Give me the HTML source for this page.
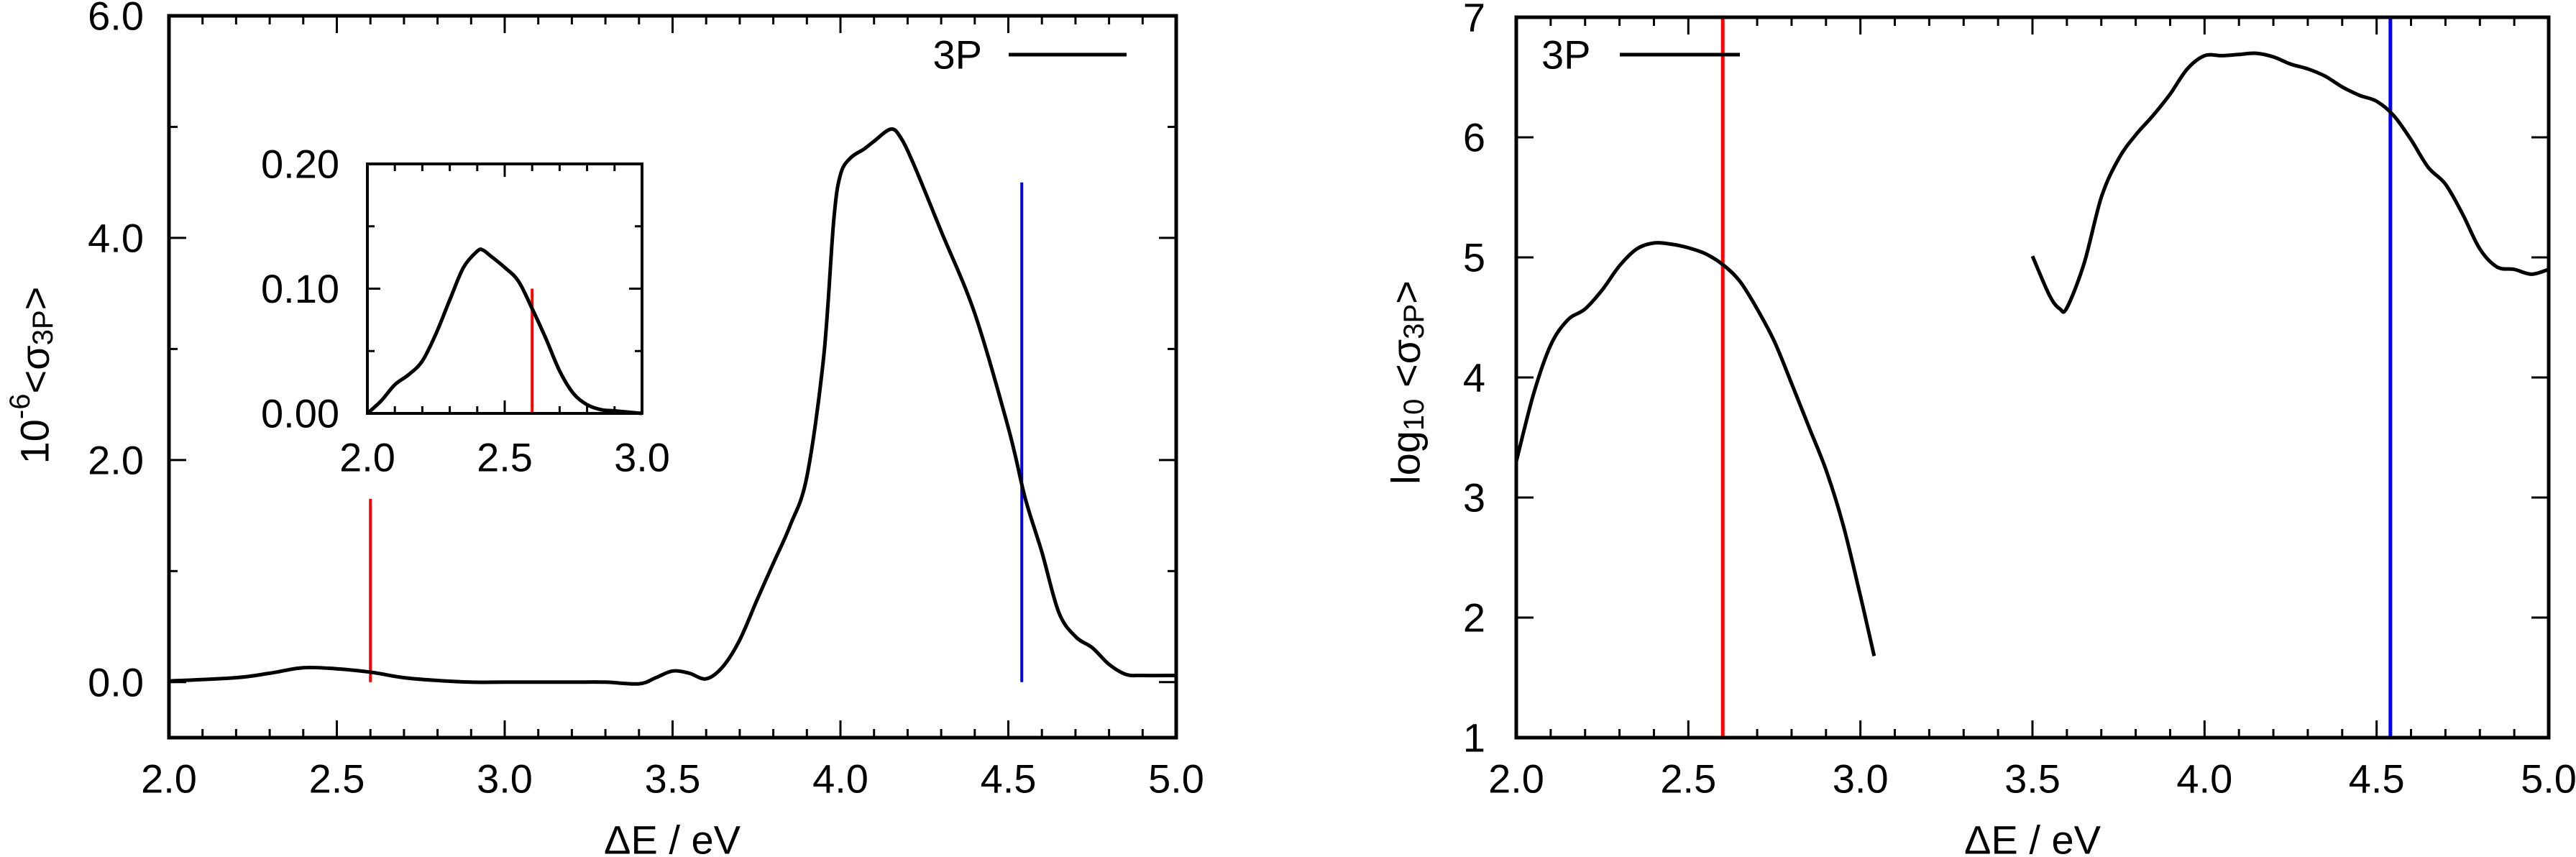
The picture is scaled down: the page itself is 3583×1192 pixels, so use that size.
<!DOCTYPE html>
<html><head><meta charset="utf-8">
<style>
html,body{margin:0;padding:0;background:#fff;}
svg{display:block;}
text{font-family:"Liberation Sans",sans-serif;fill:#000;}
</style></head>
<body>
<svg id="chart" width="3583" height="1192" viewBox="0 0 3583 1192" xmlns="http://www.w3.org/2000/svg"></svg>
<script>
// Left main panel data
const mainX = [2.0,2.2,2.3,2.4,2.5,2.6,2.7,2.8,2.9,3.0,3.1,3.2,3.3,3.4,3.45,3.5,3.55,3.6,3.65,3.7,3.75,3.8,3.85,3.9,3.95,3.98,4.0,4.03,4.07,4.1,4.15,4.18,4.22,4.3,4.4,4.5,4.55,4.6,4.65,4.7,4.75,4.8,4.85,4.9,5.0];
const mainY = [0.01,0.04,0.08,0.13,0.12,0.09,0.04,0.015,0.0,0.0,0.0,0.0,0.0,-0.015,0.04,0.1,0.08,0.03,0.14,0.38,0.73,1.07,1.41,1.85,2.93,4.16,4.57,4.72,4.8,4.87,4.98,4.9,4.65,4.06,3.32,2.29,1.66,1.17,0.63,0.41,0.31,0.16,0.07,0.06,0.06];
// Inset data
const insetX = [2.0,2.05,2.1,2.15,2.2,2.25,2.3,2.35,2.4,2.42,2.45,2.5,2.55,2.6,2.65,2.7,2.75,2.8,2.85,2.9,3.0];
const insetY = [0.0,0.01,0.023,0.031,0.042,0.064,0.091,0.117,0.130,0.131,0.126,0.117,0.106,0.084,0.06,0.034,0.016,0.007,0.003,0.002,0.0];
// Right log panel data (two segments)
const logX1 = [2.0,2.05,2.1,2.15,2.2,2.25,2.3,2.35,2.4,2.45,2.5,2.55,2.6,2.65,2.7,2.75,2.8,2.85,2.9,2.95,3.0,3.04];
const logY1 = [3.30,3.86,4.27,4.48,4.57,4.73,4.93,5.07,5.12,5.11,5.08,5.03,4.94,4.80,4.57,4.30,3.95,3.59,3.23,2.77,2.18,1.68];
const logX2 = [3.5,3.55,3.58,3.6,3.65,3.7,3.75,3.8,3.85,3.9,3.95,4.0,4.05,4.1,4.15,4.2,4.25,4.3,4.35,4.4,4.45,4.5,4.55,4.6,4.65,4.7,4.75,4.8,4.85,4.9,4.95,5.0];
const logY2 = [5.01,4.68,4.57,4.58,4.95,5.5,5.82,6.02,6.18,6.36,6.57,6.68,6.68,6.69,6.70,6.67,6.61,6.57,6.51,6.42,6.35,6.30,6.18,5.98,5.75,5.61,5.36,5.07,4.92,4.90,4.86,4.90];
// Marker lines
const redLineX = [2.6];
const blueLineX = [4.54];
const mainRedTop = [1.65];
const mainBlueTop = [4.5];
const insetRedTop = [0.1];
// Tick labels
const mainXTicks = ["2.0","2.5","3.0","3.5","4.0","4.5","5.0"];
const mainYTicks = ["0.0","2.0","4.0","6.0"];
const insetXTicks = ["2.0","2.5","3.0"];
const insetYTicks = ["0.00","0.10","0.20"];
const logYTicks = ["1","2","3","4","5","6","7"];

const NS="http://www.w3.org/2000/svg";
const svg=document.getElementById('chart');
function mk(tag,attrs,parent){const e=document.createElementNS(NS,tag);for(const k in attrs)e.setAttribute(k,attrs[k]);(parent||svg).appendChild(e);return e;}
function scale(d0,d1,r0,r1){return v=>r0+(v-d0)/(d1-d0)*(r1-r0);}

function axes(name){
  const g=mk('g',{});
  
  
  return g;
}
function frame(g,p,sw){
  const r=mk('rect',{x:p.x0,y:p.y0,width:p.x1-p.x0,height:p.y1-p.y0,fill:'none',stroke:'#000','stroke-width':sw},g);
  
  
}
function tick(g,x1,y1,x2,y2){mk('line',{x1,y1,x2,y2,stroke:'#000','stroke-width':3},g);}
function line(g,xs,ys,sx,sy,name){
  const P=xs.map((x,i)=>[sx(x),sy(ys[i])]);
  let d='M'+P[0][0].toFixed(1)+','+P[0][1].toFixed(1);
  for(let i=0;i<P.length-1;i++){
    const p0=P[Math.max(0,i-1)],p1=P[i],p2=P[i+1],p3=P[Math.min(P.length-1,i+2)];
    const c1x=p1[0]+(p2[0]-p0[0])/6,c1y=p1[1]+(p2[1]-p0[1])/6;
    const c2x=p2[0]-(p3[0]-p1[0])/6,c2y=p2[1]-(p3[1]-p1[1])/6;
    d+=' C'+c1x.toFixed(1)+','+c1y.toFixed(1)+' '+c2x.toFixed(1)+','+c2y.toFixed(1)+' '+p2[0].toFixed(1)+','+p2[1].toFixed(1);
  }
  const pl=mk('path',{d:d,fill:'none',stroke:'#000','stroke-width':5,'stroke-linejoin':'round'},g);
  
  
}
function vline(g,x,y1,y2,color,name,w){
  const l=mk('line',{x1:x,y1:y1,x2:x,y2:y2,stroke:color,'stroke-width':w||4},g);
  
  
}
function txt(g,x,y,s,anchor,size,name){
  const t=mk('text',{x,y,'text-anchor':anchor,'font-size':size,'dominant-baseline':'central'},g);
  t.textContent=s;
  
  
  return t;
}

// ---------- Left panel ----------
const L={x0:235,x1:1636,y0:22,y1:1026};
const lx=scale(2,5,L.x0,L.x1), ly=scale(-0.5,6,L.y1,L.y0);
const gL=axes('left-panel');
for(let i=0;i<=30;i++){const v=2+i*0.1;const x=lx(v);const len=(i%5===0)?24:12;tick(gL,x,L.y1,x,L.y1-len);tick(gL,x,L.y0,x,L.y0+len);}
for(let v=0;v<=6;v++){const y=ly(v);const len=(v%2===0)?24:12;tick(gL,L.x0,y,L.x0+len,y);tick(gL,L.x1,y,L.x1-len,y);}
mainXTicks.forEach(s=>txt(gL,lx(parseFloat(s)),1083,s,'middle',56,'x-tick-label'));
mainYTicks.forEach(s=>txt(gL,200,ly(parseFloat(s)),s,'end',56,'y-tick-label'));
vline(gL,lx(redLineX[0]),ly(0),ly(mainRedTop[0]),'#f00','red-marker-line');
vline(gL,lx(blueLineX[0]),ly(0),ly(mainBlueTop[0]),'#00f','blue-marker-line');
line(gL,mainX,mainY,lx,ly,'series-3p');
frame(gL,L,5);
txt(gL,935,1168,'ΔE / eV','middle',56,'x-axis-title');
const yt=mk('text',{x:0,y:0,'text-anchor':'middle','font-size':56,'dominant-baseline':'central',transform:'translate(48,522) rotate(-90)'},gL);


yt.innerHTML='10<tspan dy="-20" font-size="40">-6</tspan><tspan dy="20">&lt;σ</tspan><tspan dy="12" font-size="40">3P</tspan><tspan dy="-12">&gt;</tspan>';
txt(gL,1366,76,'3P','end',56,'legend-label');
const lg=mk('line',{x1:1403,y1:76,x2:1567,y2:76,stroke:'#000','stroke-width':5},gL);



// ---------- Inset ----------
const I={x0:511,x1:893,y0:228,y1:575};
const ix=scale(2,3,I.x0,I.x1), iy=scale(0,0.2,I.y1,I.y0);
const gI=axes('inset-panel');
for(let i=0;i<=10;i++){const x=ix(2+i*0.1);const len=(i%5===0)?18:10;tick(gI,x,I.y1,x,I.y1-len);tick(gI,x,I.y0,x,I.y0+len);}
for(let i=0;i<=4;i++){const y=iy(i*0.05);const len=(i%2===0)?18:10;tick(gI,I.x0,y,I.x0+len,y);tick(gI,I.x1,y,I.x1-len,y);}
insetXTicks.forEach(s=>txt(gI,ix(parseFloat(s)),636,s,'middle',56,'inset-x-tick-label'));
insetYTicks.forEach(s=>txt(gI,472,iy(parseFloat(s)),s,'end',56,'inset-y-tick-label'));
vline(gI,ix(redLineX[0]),iy(0),iy(insetRedTop[0]),'#f00','inset-red-marker-line');
line(gI,insetX,insetY,ix,iy,'inset-series-3p');
frame(gI,I,4);

// ---------- Right panel ----------
const R={x0:2109,x1:3545,y0:24,y1:1026};
const rx=scale(2,5,R.x0,R.x1), ry=scale(1,7,R.y1,R.y0);
const gR=axes('right-panel');
for(let i=0;i<=30;i++){const x=rx(2+i*0.1);const len=(i%5===0)?24:12;tick(gR,x,R.y1,x,R.y1-len);tick(gR,x,R.y0,x,R.y0+len);}
for(let v=1;v<=7;v++){const y=ry(v);tick(gR,R.x0,y,R.x0+24,y);tick(gR,R.x1,y,R.x1-24,y);}
mainXTicks.forEach(s=>txt(gR,rx(parseFloat(s)),1083,s,'middle',56,'x-tick-label'));
logYTicks.forEach(s=>txt(gR,2066,ry(parseFloat(s)),s,'end',56,'y-tick-label'));
vline(gR,rx(redLineX[0]),R.y0,R.y1,'#f00','red-marker-line',5);
vline(gR,rx(blueLineX[0]),R.y0,R.y1,'#00f','blue-marker-line',5);
line(gR,logX1,logY1,rx,ry,'series-3p-low');
line(gR,logX2,logY2,rx,ry,'series-3p-high');
frame(gR,R,5);
txt(gR,2827,1168,'ΔE / eV','middle',56,'x-axis-title');
const yt2=mk('text',{x:0,y:0,'text-anchor':'middle','font-size':56,'dominant-baseline':'central',transform:'translate(1955,532) rotate(-90)'},gR);


yt2.innerHTML='log<tspan dy="12" font-size="40">10</tspan><tspan dy="-12"> &lt;σ</tspan><tspan dy="12" font-size="40">3P</tspan><tspan dy="-12">&gt;</tspan>';
txt(gR,2144,76,'3P','start',56,'legend-label');
const lg2=mk('line',{x1:2253,y1:76,x2:2420,y2:76,stroke:'#000','stroke-width':5},gR);


</script>
</body></html>
